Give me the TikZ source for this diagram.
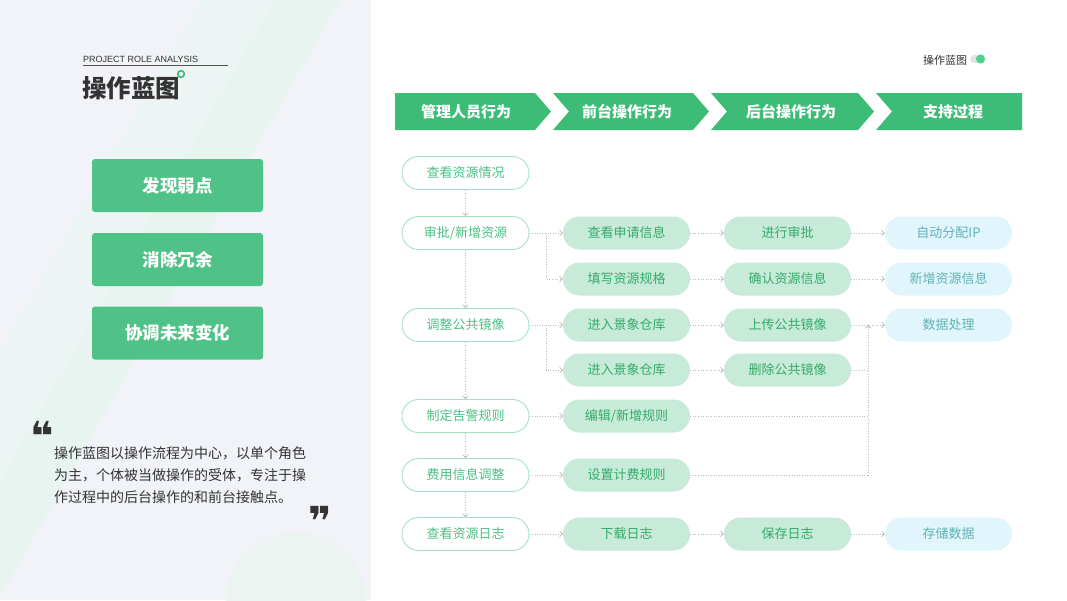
\documentclass[tikz,border=0pt]{standalone}
\usepackage{fontspec}
\setmainfont{Noto Sans CJK SC}
\newfontfamily\latinfont{Liberation Sans}
\newfontfamily\symfont{DejaVu Sans}
\usetikzlibrary{arrows.meta}
\definecolor{leftbg}{HTML}{F1F3F8}
\definecolor{bandA}{HTML}{EDF4F4}
\definecolor{bandB}{HTML}{E8F4F0}
\definecolor{circA}{HTML}{EBF4F1}
\definecolor{hdrgreen}{HTML}{3DBC77}
\definecolor{btngreen}{HTML}{4FC387}
\definecolor{pillborder}{HTML}{A6E2C2}
\definecolor{colAtext}{HTML}{4DBF85}
\definecolor{pillgreen}{HTML}{C7EBD8}
\definecolor{colBtext}{HTML}{35AA6A}
\definecolor{pillblue}{HTML}{E1F6FC}
\definecolor{colDtext}{HTML}{5FB2B6}
\definecolor{linegray}{HTML}{BDBDBD}
\definecolor{darktext}{HTML}{333333}
\definecolor{togglegreen}{HTML}{4CD38C}
\begin{document}
\begin{tikzpicture}[x=1pt,y=-1pt,
  hdrtext/.style={text=white,font=\fontsize{15}{18}\selectfont\bfseries},
  btn/.style={fill=btngreen,rounded corners=3pt,minimum width=171pt,minimum height=53pt,text=white,font=\fontsize{17.5}{20}\selectfont\bfseries},
  pillbase/.style={rounded corners=16.5pt,minimum width=127pt,minimum height=33pt,inner sep=0pt,font=\fontsize{13}{15}\selectfont},
  pillA/.style={pillbase,draw=pillborder,line width=0.9pt,fill=white,text=colAtext},
  pillB/.style={pillbase,fill=pillgreen,text=colBtext},
  pillD/.style={pillbase,fill=pillblue,text=colDtext},
  link/.style={draw=linegray,line width=0.8pt,dash pattern=on 1pt off 1.6pt},
  arr/.style={-{Straight Barb[length=2.6pt,width=5.5pt,line width=0.8pt]}},
  quotemark/.style={text=darktext,inner sep=0pt,font=\symfont\bfseries\fontsize{40}{40}\selectfont}
]
\useasboundingbox (0,0) rectangle (1067,600);
\fill[white] (0,0) rectangle (1067,600);
% left panel
\fill[leftbg] (0,0) rectangle (371,600);
\begin{scope}
\clip (0,0) rectangle (371,600);
\fill[bandA] (200,0) -- (340,0) -- (0,596) -- (0,351) -- cycle;
\fill[bandB] (275,0) -- (340,0) -- (0,596) -- (0,482) -- cycle;
\fill[circA] (296,602) circle (70);
\end{scope}
% title block
\node[anchor=base west,inner sep=0pt,text=darktext,font=\latinfont\fontsize{9}{10}\selectfont] (sub) at (83,62) {PROJECT ROLE ANALYSIS};
\draw[darktext!85,line width=1pt] (83,65.5) -- (228,65.5);
\node[anchor=west,inner sep=0pt,text=darktext,font=\fontsize{24.5}{27}\selectfont\bfseries] (title) at (82,88) {操作蓝图};
\draw[hdrgreen,line width=1.7pt] (181,74) circle (3.3);
% buttons
\node[btn] (b1btn) at (177.5,185.5) {发现弱点};
\node[btn] (b2btn) at (177.5,259.5) {消除冗余};
\node[btn] (b3btn) at (177.5,333) {协调未来变化};
% quote
\node[quotemark] (q1) at (42,436) {❝};
\node[anchor=north west,inner sep=0pt,align=left,text=darktext,font=\fontsize{14}{22}\selectfont] (quote) at (54,446) {操作蓝图以操作流程为中心，以单个角色\\为主，个体被当做操作的受体，专注于操\\作过程中的后台操作的和前台接触点。};
\node[quotemark] (q2) at (320,521) {❞};
% top right label
\node[text=darktext,inner sep=0pt,font=\fontsize{11}{12}\selectfont] (lbl) at (945,60) {操作蓝图};
\fill[gray!22] (974.5,59) circle (4.3);
\fill[togglegreen] (980.5,59) circle (4.6);
% header chevrons
\fill[hdrgreen] (395,93) -- (535,93) -- (551,111.5) -- (535,130) -- (395,130) -- cycle;
\fill[hdrgreen] (553,93) -- (693,93) -- (709,111.5) -- (693,130) -- (553,130) -- (569,111.5) -- cycle;
\fill[hdrgreen] (711,93) -- (858,93) -- (874,111.5) -- (858,130) -- (711,130) -- (727,111.5) -- cycle;
\fill[hdrgreen] (876,93) -- (1022,93) -- (1022,130) -- (876,130) -- (892,111.5) -- cycle;
\node[hdrtext] (h1) at (466,112) {管理人员行为};
\node[hdrtext] (h2) at (627,112) {前台操作行为};
\node[hdrtext] (h3) at (791,112) {后台操作行为};
\node[hdrtext] (h4) at (953,112) {支持过程};
% column A
\node[pillA] (a1) at (465.5,173) {查看资源情况};
\node[pillA] (a2) at (465.5,233) {审批/新增资源};
\node[pillA] (a3) at (465.5,325) {调整公共镜像};
\node[pillA] (a4) at (465.5,416) {制定告警规则};
\node[pillA] (a5) at (465.5,475) {费用信息调整};
\node[pillA] (a6) at (465.5,534) {查看资源日志};
% column B
\node[pillB] (b1) at (626.5,233) {查看申请信息};
\node[pillB] (b2) at (626.5,279) {填写资源规格};
\node[pillB] (b3) at (626.5,325) {进入景象仓库};
\node[pillB] (b4) at (626.5,370) {进入景象仓库};
\node[pillB] (b5) at (626.5,416) {编辑/新增规则};
\node[pillB] (b6) at (626.5,475) {设置计费规则};
\node[pillB] (b7) at (626.5,534) {下载日志};
% column C
\node[pillB] (c1) at (787.5,233) {进行审批};
\node[pillB] (c2) at (787.5,279) {确认资源信息};
\node[pillB] (c3) at (787.5,325) {上传公共镜像};
\node[pillB] (c4) at (787.5,370) {删除公共镜像};
\node[pillB] (c5) at (787.5,534) {保存日志};
% column D
\node[pillD] (d1) at (948.5,233) {自动分配IP};
\node[pillD] (d2) at (948.5,279) {新增资源信息};
\node[pillD] (d3) at (948.5,325) {数据处理};
\node[pillD] (d4) at (948.5,534) {存储数据};
% vertical chain
\draw[link,arr] (a1.south) -- (a2.north);
\draw[link,arr] (a2.south) -- (a3.north);
\draw[link,arr] (a3.south) -- (a4.north);
\draw[link,arr] (a4.south) -- (a5.north);
\draw[link,arr] (a5.south) -- (a6.north);
% A -> B
\coordinate (j1) at (546,233);
\coordinate (j2) at (546,325);
\draw[link,arr] (a2.east) -- (b1.west);
\draw[link,arr] (j1) |- (b2.west);
\draw[link,arr] (a3.east) -- (b3.west);
\draw[link,arr] (j2) |- (b4.west);
\draw[link,arr] (a4.east) -- (b5.west);
\draw[link,arr] (a5.east) -- (b6.west);
\draw[link,arr] (a6.east) -- (b7.west);
% B -> C
\draw[link,arr] (b1.east) -- (c1.west);
\draw[link,arr] (b2.east) -- (c2.west);
\draw[link,arr] (b3.east) -- (c3.west);
\draw[link,arr] (b4.east) -- (c4.west);
\draw[link,arr] (b7.east) -- (c5.west);
% C -> D
\draw[link,arr] (c1.east) -- (d1.west);
\draw[link,arr] (c2.east) -- (d2.west);
\draw[link,arr] (c3.east) -- (d3.west);
\draw[link,arr] (c5.east) -- (d4.west);
% merge into 数据处理
\coordinate (j3) at (868,325);
\draw[link,arr] (b6.east) -| (j3);
\draw[link] (b5.east) -- (b5.east -| j3);
\draw[link] (c4.east) -- (c4.east -| j3);
\end{tikzpicture}
\end{document}
